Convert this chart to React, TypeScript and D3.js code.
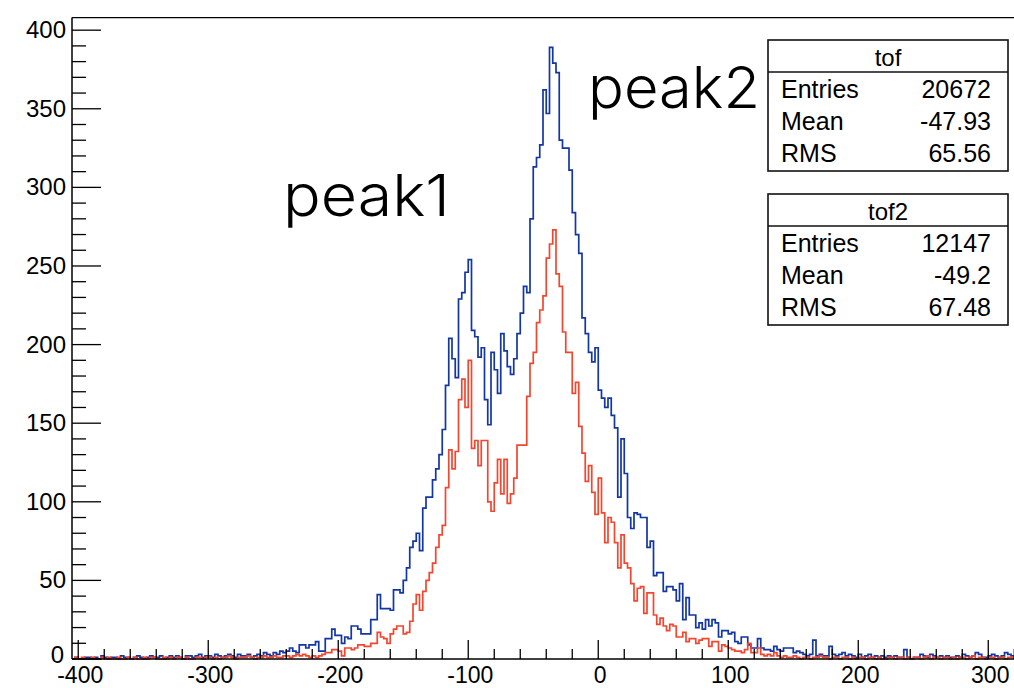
import React from 'react';
import * as d3 from 'd3';

// Histogram binning (ROOT-style TH1), bin left edge start and width
const BIN0 = -405;
const BINW = 2.5;

// "tof" histogram (blue) – tail from -405 to -242.5
const tofTail = [
  0, 1, 0, 0, 1, 1, 0, 1, 0, 2,
  1, 0, 1, 1, 0, 2, 1, 1, 0, 1,
  2, 1, 0, 1, 2, 1, 1, 2, 0, 1,
  2, 1, 2, 1, 0, 2, 2, 1, 2, 3,
  1, 2, 2, 1, 3, 2, 1, 2, 3, 2,
  1, 3, 2, 2, 3, 1, 2, 3, 2, 4,
  3, 2, 4, 3, 5, 4,
];
// "tof" histogram (blue) – from -240 to 317.5
const tofMain = [
  5, 7, 5, 4, 9, 9, 7, 9, 9, 11,
  5, 5, 13, 13, 19, 15, 15, 10, 14, 13,
  21, 21, 19, 16, 16, 16, 25, 25, 41, 32,
  32, 32, 31, 44, 44, 42, 50, 58, 71, 75,
  80, 69, 96, 103, 103, 114, 121, 130, 146, 174,
  204, 191, 179, 229, 233, 246, 254, 209, 205, 192,
  198, 165, 149, 195, 184, 169, 207, 196, 186, 181,
  191, 207, 220, 237, 233, 280, 313, 319, 327, 362,
  347, 389, 379, 373, 330, 325, 325, 311, 284, 270,
  258, 217, 207, 195, 189, 198, 171, 166, 160, 166,
  155, 147, 103, 140, 118, 90, 83, 93, 92, 90,
  90, 71, 75, 53, 55, 55, 43, 46, 46, 44,
  37, 48, 25, 39, 28, 28, 20, 23, 19, 25,
  21, 25, 23, 14, 18, 18, 16, 17, 11, 10,
  14, 14, 9, 7, 7, 13, 7, 6, 6, 5,
  8, 6, 5, 7, 7, 7, 4, 5, 4, 3,
  2, 3, 12, 2, 3, 2, 2, 8, 3, 2,
  3, 4, 2, 3, 2, 1, 3, 1, 2, 3,
  1, 2, 1, 2, 1, 2, 1, 2, 1, 1,
  6, 1, 0, 1, 1, 3, 2, 1, 3, 2,
  1, 2, 1, 2, 1, 1, 2, 1, 3, 2,
  1, 2, 4, 3, 1, 1, 2, 3, 2, 1,
  2, 4, 3, 2,
];

// "tof2" histogram (red) – tail from -405 to -242.5
const tof2Tail = [
  0, 1, 0, 1, 0, 0, 1, 0, 0, 1,
  0, 1, 0, 0, 1, 0, 0, 1, 0, 1,
  0, 0, 1, 0, 1, 1, 0, 0, 1, 0,
  1, 0, 1, 1, 0, 1, 0, 0, 1, 1,
  0, 1, 1, 0, 1, 0, 1, 1, 2, 1,
  0, 1, 1, 1, 2, 1, 0, 1, 1, 2,
  1, 1, 2, 1, 1, 2,
];
// "tof2" histogram (red) – from -240 to 157.5
const tof2Main = [
  2, 1, 2, 3, 2, 3, 2, 1, 2, 1,
  2, 3, 4, 4, 6, 6, 5, 2, 7, 7,
  6, 7, 9, 9, 8, 8, 10, 10, 17, 14,
  13, 10, 16, 19, 21, 21, 16, 17, 24, 35,
  41, 31, 43, 50, 55, 61, 71, 79, 85, 109,
  133, 121, 132, 165, 178, 160, 190, 134, 139, 123,
  139, 139, 100, 94, 112, 127, 105, 127, 99, 105,
  115, 136, 136, 136, 167, 188, 195, 214, 222, 231,
  255, 264, 273, 245, 237, 208, 195, 195, 169, 176,
  148, 131, 113, 123, 106, 92, 115, 93, 74, 90,
  87, 74, 58, 79, 61, 58, 48, 37, 45, 46,
  29, 42, 42, 28, 22, 26, 21, 18, 22, 21,
  14, 14, 17, 11, 13, 13, 10, 12, 13, 13,
  8, 11, 11, 5, 9, 8, 7, 6, 5, 5,
  4, 6, 10, 4, 4, 7, 3, 2, 3, 2,
  4, 2, 1, 2, 1, 1, 2, 1, 0, 1,
];
// "tof2" histogram (red) – from 160 to 317.5
const tof2RightTail = [
  1, 0, 1, 1, 2, 1, 1, 0, 1, 1,
  0, 1, 1, 0, 1, 0, 1, 1, 0, 1,
  1, 0, 1, 0, 0, 1, 1, 0, 1, 1,
  0, 1, 0, 1, 1, 0, 1, 2, 0, 1,
  1, 0, 1, 1, 0, 1, 0, 1, 1, 0,
  1, 2, 0, 1, 1, 0, 1, 1, 0, 1,
  1, 0, 1, 1,
];

const tofCounts = [...tofTail, ...tofMain];
const tof2Counts = [...tof2Tail, ...tof2Main, ...tof2RightTail];

const xTickValues = [-400, -300, -200, -100, 0, 100, 200, 300];
const xTickLabels = ['-400', '-300', '-200', '-100', '0', '100', '200', '300'];
const yTickValues = [0, 50, 100, 150, 200, 250, 300, 350, 400];
const yTickLabels = ['0', '50', '100', '150', '200', '250', '300', '350', '400'];

const statsNames = ['tof', 'tof2'];
const statsLabels = ['Entries', 'Mean', 'RMS'];
const statsTof = ['20672', '-47.93', '65.56'];
const statsTof2 = ['12147', '-49.2', '67.48'];

const annotations = ['peak1', 'peak2'];

const W = 1014;
const H = 688;
const FL = 72;
const FR = 1014;
const FT = 17.6;
const FB = 659;

const BLUE = '#1236a3';
const RED = '#f2462f';
const FONT = '"Liberation Sans", Arial, Helvetica, sans-serif';

export default function App() {
  const x = d3.scaleLinear().domain([-404.8, 319.8]).range([FL, FR]);
  const y = d3.scaleLinear().domain([0, 408]).range([FB, FT]);

  const stepPath = (counts: number[]) => {
    const pts: [number, number][] = [[x(BIN0), y(0)]];
    counts.forEach((c, i) => {
      const a = BIN0 + i * BINW;
      pts.push([x(a), y(c)], [x(a + BINW), y(c)]);
    });
    pts.push([x(BIN0 + counts.length * BINW), y(0)]);
    return d3.line()(pts) || '';
  };

  const xMinor = d3.range(-400, 321, 20).filter((v) => v % 100 !== 0);
  const yMinor = d3.range(0, 408, 10).filter((v) => v % 50 !== 0);

  const boxes = [
    { name: statsNames[0], vals: statsTof, top: 40 },
    { name: statsNames[1], vals: statsTof2, top: 194 },
  ];
  const bx0 = 768;
  const bx1 = 1008;

  return (
    <svg
      width={W}
      height={H}
      style={{ position: 'absolute', left: 0, top: 0, background: '#fff' }}
    >
      <rect x={0} y={0} width={W} height={H} fill="#fff" />
      <defs>
        <clipPath id="frame">
          <rect x={FL} y={FT} width={FR - FL} height={FB - FT + 1} />
        </clipPath>
      </defs>

      <g clipPath="url(#frame)">
        <path d={stepPath(tofCounts)} fill="none" stroke={BLUE} strokeWidth={1.7} />
        <path d={stepPath(tof2Counts)} fill="none" stroke={RED} strokeWidth={1.7} />
      </g>

      {/* frame */}
      <line x1={FL} y1={FT} x2={FR} y2={FT} stroke="#000" strokeWidth={1.2} />
      <line x1={FL} y1={FT} x2={FL} y2={FB} stroke="#000" strokeWidth={1.5} />
      <line x1={FL} y1={FB} x2={FR} y2={FB} stroke="#000" strokeWidth={1.5} />

      {/* x ticks */}
      {xTickValues.map((v) => (
        <line key={'xM' + v} x1={x(v)} x2={x(v)} y1={FB} y2={FB - 19} stroke="#000" strokeWidth={1.3} />
      ))}
      {xMinor.map((v) => (
        <line key={'xm' + v} x1={x(v)} x2={x(v)} y1={FB} y2={FB - 10} stroke="#000" strokeWidth={1.3} />
      ))}
      {xTickValues.map((v, i) => (
        <text key={'xl' + v} x={x(v) + 2} y={683} textAnchor="middle" fontFamily={FONT} fontSize={23} fill="#000">
          {xTickLabels[i]}
        </text>
      ))}

      {/* y ticks */}
      {yTickValues.map((v) => (
        <line key={'yM' + v} x1={FL} x2={FL + 29} y1={y(v)} y2={y(v)} stroke="#000" strokeWidth={1.3} />
      ))}
      {yMinor.map((v) => (
        <line key={'ym' + v} x1={FL} x2={FL + 14} y1={y(v)} y2={y(v)} stroke="#000" strokeWidth={1.3} />
      ))}
      {yTickValues.map((v, i) => (
        <text key={'yl' + v} x={v === 0 ? 64 : 66} y={y(v) + (v === 0 ? 4 : 8)} textAnchor="end" fontFamily={FONT} fontSize={24} fill="#000">
          {yTickLabels[i]}
        </text>
      ))}

      {/* stats boxes */}
      {boxes.map((b) => (
        <g key={b.name}>
          <rect x={bx0} y={b.top} width={bx1 - bx0} height={131} fill="#fff" stroke="#111" strokeWidth={1.6} />
          <line x1={bx0} x2={bx1} y1={b.top + 32} y2={b.top + 32} stroke="#111" strokeWidth={1.4} />
          <text x={(bx0 + bx1) / 2} y={b.top + 26} textAnchor="middle" fontFamily={FONT} fontSize={24} fill="#000">
            {b.name}
          </text>
          {statsLabels.map((lab, j) => (
            <g key={lab}>
              <text x={781} y={b.top + 58 + j * 32.2} fontFamily={FONT} fontSize={25} fill="#000">
                {lab}
              </text>
              <text x={991} y={b.top + 58 + j * 32.2} textAnchor="end" fontFamily={FONT} fontSize={25} fill="#000">
                {b.vals[j]}
              </text>
            </g>
          ))}
        </g>
      ))}

      {/* annotations */}
      <text x={283} y={216} fontFamily='Inter, "Open Sans", sans-serif' fontWeight={300} fontSize={58}
        textLength={167} lengthAdjust="spacingAndGlyphs" fill="#000">
        {annotations[0]}
      </text>
      <text x={588} y={108} fontFamily='Inter, "Open Sans", sans-serif' fontWeight={300} fontSize={58}
        textLength={172} lengthAdjust="spacingAndGlyphs" fill="#000">
        {annotations[1]}
      </text>
    </svg>
  );
}
